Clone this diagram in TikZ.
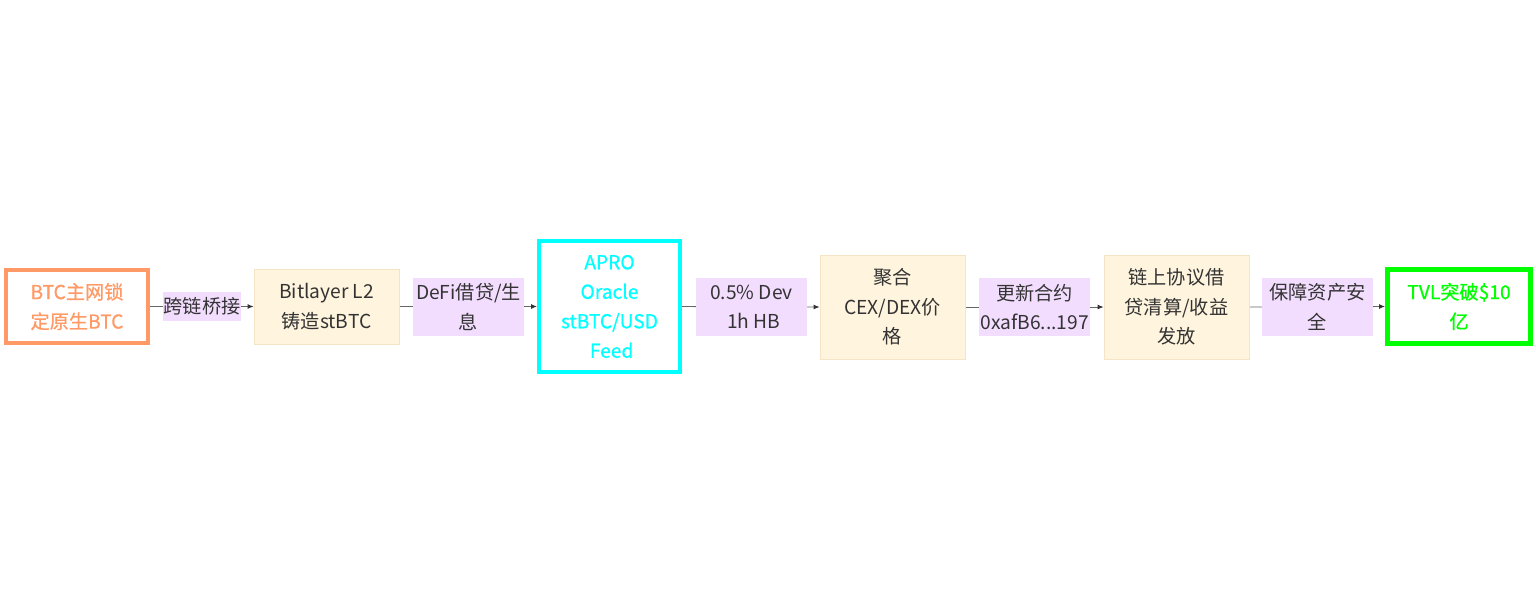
\documentclass[tikz,border=0pt]{standalone}
\usepackage{fontspec}
\setmainfont{Noto Sans CJK SC}
\newfontfamily\medfont[FakeBold=0.7]{Noto Sans CJK SC}
\usetikzlibrary{arrows.meta,backgrounds}
\definecolor{txt}{HTML}{333333}
\definecolor{lblfill}{HTML}{F3DDFF}
\definecolor{boxfill}{HTML}{FFF4DE}
\definecolor{boxline}{HTML}{F5E4C6}
\definecolor{orng}{HTML}{FF9966}
\definecolor{cyn}{HTML}{00FFFF}
\definecolor{grn}{HTML}{00FF00}
\definecolor{edge}{HTML}{666666}
\begin{document}
\begin{tikzpicture}[x=1pt,y=-1pt,
  every node/.style={font=\fontsize{19.2}{29.5}\selectfont, align=center, inner sep=0pt, text=txt},
  plainbox/.style={fill=boxfill, draw=boxline, line width=0.8pt, minimum width=145pt},
  lbl/.style={fill=lblfill, minimum height=58pt, minimum width=111pt},
  accent/.style={font=\fontsize{19.2}{29.5}\medfont},
  conn/.style={draw=edge, line width=0.9pt, -{Latex[length=6pt,width=5pt,color=txt]}}
]
\useasboundingbox (0,0) rectangle (1536,614);
\node[draw=orng, line width=4pt, minimum width=142pt, minimum height=73pt, text=orng, accent] (btc) at (77,306.5) {BTC主网锁\\定原生BTC};
\node[fill=lblfill, minimum width=78pt, minimum height=29pt] (l1) at (202,306.5) {跨链桥接};
\node[plainbox, minimum height=75pt] (bit) at (326.5,306.5) {Bitlayer L2\\铸造stBTC};
\node[lbl] (l2) at (468.5,307) {DeFi借贷/生\\息};
\node[draw=cyn, line width=4pt, minimum width=141pt, minimum height=131pt, text=cyn, accent] (apro) at (609.5,306.5) {APRO\\Oracle\\stBTC/USD\\\ Feed};
\node[lbl] (l3) at (751.5,307) {0.5\% Dev\\\ 1h HB};
\node[plainbox, minimum height=104pt] (agg) at (892.5,307) {聚合\\CEX/DEX价\\格};
\node[lbl] (l4) at (1034.5,307) {更新合约\\0xafB6...197};
\node[plainbox, minimum height=104pt] (chain) at (1176.5,307) {链上协议借\\贷清算/收益\\发放};
\node[lbl] (l5) at (1317.5,307) {保障资产安\\全};
\node[draw=grn, line width=5pt, minimum width=143pt, minimum height=74pt, text=grn, accent] (tvl) at (1459,306.5) {TVL突破\$10\\亿};
\begin{scope}[on background layer]
\draw[conn] (btc.east) -- (bit.west);
\draw[conn] (bit.east) -- (apro.west);
\draw[conn] (apro.east) -- (agg.west);
\draw[conn] (agg.east) -- (chain.west);
\draw[conn] (chain.east) -- (tvl.west);
\end{scope}
\end{tikzpicture}
\end{document}
